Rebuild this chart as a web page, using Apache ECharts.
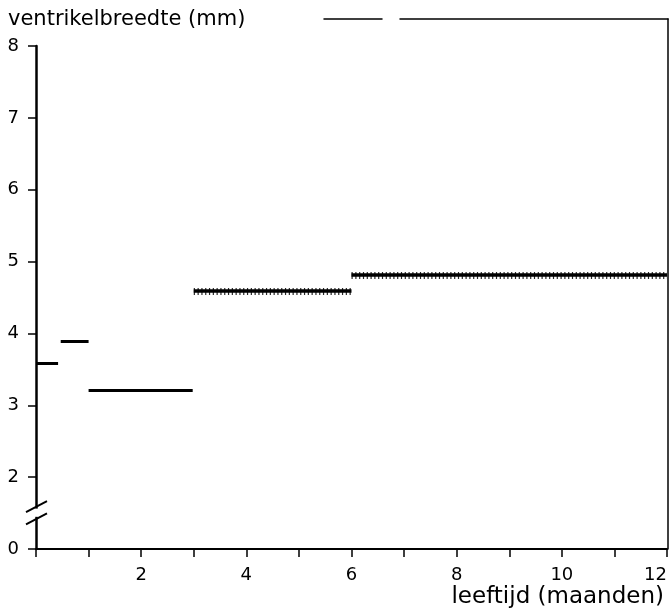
<!DOCTYPE html>
<html>
<head>
<meta charset="utf-8">
<script src="https://cdn.jsdelivr.net/npm/echarts@6/dist/echarts.min.js"></script>
<style>
  html, body { margin: 0; padding: 0; background: #fff; }
  #chart { width: 670px; height: 610px; }
</style>
</head>
<body>
<div id="chart"></div>
<script>
// meetwaarden: horizontale stukken (leeftijd in maanden, breedte in mm)
const segStart = [0, 0.47, 1, 3, 6];
const segEnd   = [0.42, 1, 2.98, 6, 12];
const segValue = [3.58, 3.89, 3.21, 4.59, 4.81];
const segTextured = [false, false, false, true, true];

// as-labels
const xTickLabels = [2, 4, 6, 8, 10, 12];
const yTickValues = [1, 2, 3, 4, 5, 6, 7, 8];
const yTickLabels = ['0', '2', '3', '4', '5', '6', '7', '8'];
// asbreuk (//) tussen 0 en 2
const breakMarks = [1.42, 1.59];

const font = 'DejaVu Sans';
const chart = echarts.init(document.getElementById('chart'));

const solidData = [];
const texturedData = [];
segStart.forEach((s, i) => {
    const item = { coords: [[s, segValue[i]], [segEnd[i], segValue[i]]] };
    (segTextured[i] ? texturedData : solidData).push(item);
});

const option = {
    animation: false,
    backgroundColor: '#fff',
    title: [
        { text: 'ventrikelbreedte (mm)', left: 3, top: 4,
          textStyle: { fontFamily: font, fontSize: 21, fontWeight: 'normal', color: '#000' } },
        { text: 'leeftijd (maanden)', right: 1, top: 581,
          textStyle: { fontFamily: font, fontSize: 23, fontWeight: 'normal', color: '#000' } }
    ],
    grid: [
        { left: 36, right: 2, top: 46, bottom: 61 },
        { left: 324, right: 2, top: 19, bottom: 61 }
    ],
    xAxis: [
        {
            type: 'value', gridIndex: 0, min: 0, max: 12, interval: 1,
            axisLine: { lineStyle: { color: '#000', width: 2 } },
            axisTick: { length: 8, lineStyle: { color: '#000', width: 1.5 } },
            axisLabel: {
                customValues: xTickLabels, margin: 17, alignMaxLabel: 'right',
                fontFamily: font, fontSize: 18, color: '#000'
            },
            splitLine: { show: false }
        },
        {
            type: 'value', gridIndex: 1, position: 'top', min: 0, max: 1,
            axisLine: { onZero: false, lineStyle: { color: '#000', width: 1.5, type: [58, 18, 1000] } },
            axisTick: { show: false }, axisLabel: { show: false }, splitLine: { show: false }
        }
    ],
    yAxis: [
        {
            type: 'value', gridIndex: 0, min: 1, max: 8, interval: 1,
            axisLine: { lineStyle: { color: '#000', width: 2.5 } },
            axisTick: { length: 8, customValues: yTickValues, lineStyle: { color: '#000', width: 1.5 } },
            axisLabel: {
                customValues: yTickValues, margin: 17,
                formatter: v => yTickLabels[yTickValues.indexOf(v)],
                fontFamily: font, fontSize: 18, color: '#000'
            },
            splitLine: { show: false }
        },
        {
            type: 'value', gridIndex: 1, position: 'right', min: 0, max: 1,
            axisLine: { onZero: false, lineStyle: { color: '#000', width: 1.5 } },
            axisTick: { show: false }, axisLabel: { show: false }, splitLine: { show: false }
        }
    ],
    series: [
        {
            type: 'lines', coordinateSystem: 'cartesian2d', xAxisIndex: 0, yAxisIndex: 0,
            data: solidData,
            lineStyle: { color: '#000', width: 3, opacity: 1 }
        },
        {
            type: 'lines', coordinateSystem: 'cartesian2d', xAxisIndex: 0, yAxisIndex: 0,
            data: texturedData,
            lineStyle: { color: '#000', width: 3.5, opacity: 1 }
        },
        {
            // dwarsstreepjes op de dikke lijnen
            type: 'lines', coordinateSystem: 'cartesian2d', xAxisIndex: 0, yAxisIndex: 0,
            data: texturedData,
            lineStyle: { color: '#000', width: 7, opacity: 0.85, type: [1.2, 2.6] }
        },
        {
            type: 'custom', xAxisIndex: 0, yAxisIndex: 0, clip: false, silent: true,
            data: [[0, breakMarks[0], breakMarks[1]]],
            renderItem: function (params, api) {
                const lo = api.coord([0, api.value(1)]);
                const hi = api.coord([0, api.value(2)]);
                const slash = p => ({
                    type: 'line',
                    shape: { x1: p[0] - 10, y1: p[1] + 5.5, x2: p[0] + 11, y2: p[1] - 5.5 },
                    style: { stroke: '#000', lineWidth: 2 }
                });
                return {
                    type: 'group',
                    children: [
                        { type: 'rect', shape: { x: lo[0] - 3, y: hi[1] + 2, width: 6, height: lo[1] - hi[1] - 4 },
                          style: { fill: '#fff' } },
                        slash(lo),
                        slash(hi)
                    ]
                };
            }
        }
    ]
};

chart.setOption(option);
</script>
</body>
</html>
